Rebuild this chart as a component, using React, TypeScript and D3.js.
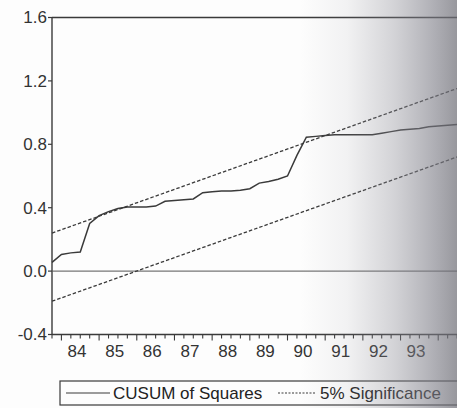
import React from "react";
import * as d3 from "d3";

// Quarterly observations starting 1983Q4
const startYear = 1983;
const startQuarter = 4;
const cusumSquares = [
  0.055, 0.105, 0.115, 0.12, 0.3, 0.35, 0.375, 0.395, 0.405, 0.405, 0.405,
  0.41, 0.44, 0.445, 0.45, 0.455, 0.495, 0.5, 0.505, 0.505, 0.51, 0.52,
  0.555, 0.565, 0.58, 0.6, 0.73, 0.845, 0.85, 0.855, 0.86, 0.86, 0.86, 0.86,
  0.86, 0.87, 0.88, 0.89, 0.895, 0.9, 0.91, 0.915, 0.92, 0.925,
];
// 5% significance bands: value at first and last observation
const upperBand = [0.24, 1.152];
const lowerBand = [-0.19, 0.72];
const yTicks = [-0.4, 0.0, 0.4, 0.8, 1.2, 1.6];
const yearLabels = ["84", "85", "86", "87", "88", "89", "90", "91", "92", "93"];
const legendLabels = ["CUSUM of Squares", "5% Significance"];

export default function App() {
  const W = 457;
  const H = 408;
  const left = 52;
  const n = cusumSquares.length;
  const x = d3.scaleLinear().domain([0, n - 1]).range([left, left + (n - 1) * 9.42]);
  const y = d3.scaleLinear().domain([-0.4, 1.6]).range([334.5, 17.5]);
  const line = d3
    .line<number>()
    .x((_, i) => x(i))
    .y((d) => y(d));
  const bandLine = (b: number[]) =>
    `M${x(0)},${y(b[0])}L${x(n - 1)},${y(b[1])}`;
  const font = "'Liberation Sans', Arial, sans-serif";
  const ink = "#3a3a3a";
  const quarterTicks = d3.range(0, n + 2);
  const firstQ1 = (4 - startQuarter + 1) % 4;
  return (
    <svg
      width={W}
      height={H}
      style={{ position: "absolute", left: 0, top: 0, background: "#fdfdfd" }}
      fontFamily={font}
    >
      <defs>
        <linearGradient id="fade" x1="0" x2="1" y1="0" y2="0">
          <stop offset="0" stopColor="#8a8a94" stopOpacity="0" />
          <stop offset="0.3" stopColor="#8a8a94" stopOpacity="0.1" />
          <stop offset="0.6" stopColor="#85858f" stopOpacity="0.35" />
          <stop offset="0.85" stopColor="#7c7c86" stopOpacity="0.6" />
          <stop offset="1" stopColor="#707078" stopOpacity="0.72" />
        </linearGradient>
      </defs>
      {/* frame */}
      <line x1={left} x2={W + 20} y1={y(1.6)} y2={y(1.6)} stroke={ink} strokeWidth={1.4} />
      <line x1={left} x2={left} y1={y(1.6)} y2={y(-0.4)} stroke={ink} strokeWidth={1.4} />
      <line x1={left} x2={W + 20} y1={y(-0.4)} y2={y(-0.4)} stroke={ink} strokeWidth={1.4} />
      {/* zero line */}
      <line x1={left} x2={W + 20} y1={y(0)} y2={y(0)} stroke="#555" strokeWidth={1} />
      {/* y ticks */}
      {yTicks.map((t) => (
        <g key={t}>
          <line x1={left - 4} x2={left} y1={y(t)} y2={y(t)} stroke={ink} strokeWidth={1.2} />
          <text
            x={left - 5}
            y={y(t)}
            dy="0.35em"
            textAnchor="end"
            fontSize={17}
            fill="#333"
          >
            {t.toFixed(1)}
          </text>
        </g>
      ))}
      {/* x ticks */}
      {quarterTicks.map((i) => (
        <line
          key={i}
          x1={x(i)}
          x2={x(i)}
          y1={y(-0.4)}
          y2={y(-0.4) + ((i - firstQ1) % 4 === 0 ? 6 : 4)}
          stroke={ink}
          strokeWidth={1.1}
        />
      ))}
      {yearLabels.map((lab, k) => (
        <text
          key={lab}
          x={x(firstQ1 + 4 * k + 1.65)}
          y={357}
          textAnchor="middle"
          fontSize={17}
          fill="#333"
        >
          {lab}
        </text>
      ))}
      {/* bands */}
      <path d={bandLine(upperBand)} fill="none" stroke={ink} strokeWidth={1.3} strokeDasharray="3.5,2" />
      <path d={bandLine(lowerBand)} fill="none" stroke={ink} strokeWidth={1.3} strokeDasharray="3.5,2" />
      {/* CUSUM of squares */}
      <path d={line(cusumSquares) || ""} fill="none" stroke={ink} strokeWidth={1.5} />
      {/* legend */}
      <rect x={60} y={381} width={420} height={24} fill="none" stroke={ink} strokeWidth={1.2} />
      <line x1={66} x2={110} y1={393} y2={393} stroke={ink} strokeWidth={1.2} />
      <text x={113} y={399} fontSize={17} fill="#222">
        {legendLabels[0]}
      </text>
      <line x1={278} x2={315} y1={393} y2={393} stroke={ink} strokeWidth={1.2} strokeDasharray="2,1.5" />
      <text x={320} y={399} fontSize={17} fill="#222">
        {legendLabels[1]}
      </text>
      {/* scan fade on the right */}
      <rect x={300} y={0} width={W - 300} height={H} fill="url(#fade)" />
    </svg>
  );
}
